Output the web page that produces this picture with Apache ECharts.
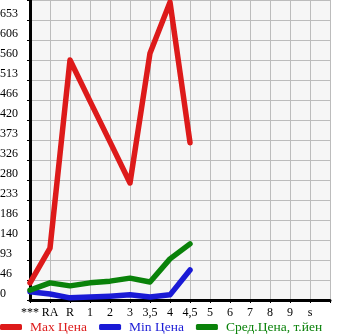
<!DOCTYPE html>
<html><head><meta charset="utf-8">
<script src="https://cdn.jsdelivr.net/npm/echarts@6/dist/echarts.min.js"></script>
<style>html,body{margin:0;padding:0;background:#fff}#c{width:345px;height:335px}</style>
</head><body><div id="c"></div>
<script>
var categories = ['***', 'RA', 'R', '1', '2', '3', '3,5', '4', '4,5', '5', '6', '7', '8', '9', 's', ''];
var maxPrice = [40, 121, 560, 464, 369, 273, 576, 695, 367, null, null, null, null, null, null, null];
var minPrice = [19, 14, 5, 7, 9, 12, 7, 12, 70, null, null, null, null, null, null, null];
var avgPrice = [23, 40, 33, 40, 44, 51, 42, 96, 131, null, null, null, null, null, null, null];
var seriesNames = ['Max Цена', 'Min Цена', 'Сред.Цена, т.йен'];
var colors = ['#dd1a1a', '#1a1ad6', '#0a820a'];
var yMax = 700, ySteps = 15;

var font = 'Liberation Serif, DejaVu Serif, serif';
var chart = echarts.init(document.getElementById('c'));
function mk(name, data, color) {
  return {
    name: name, type: 'line', data: data, showSymbol: false, symbol: 'none',
    lineStyle: { color: color, width: 5.5, cap: 'round', join: 'round' },
    itemStyle: { color: color }, animation: false
  };
}
chart.setOption({
  animation: false,
  grid: { left: 30, right: 15, top: 0, bottom: 35, show: true, backgroundColor: '#f6f6f6', borderWidth: 0, outerBoundsMode: 'none', containLabel: false },
  legend: {
    left: 0, top: 320, padding: 0, itemGap: 12, itemWidth: 22, itemHeight: 6,
    icon: 'roundRect',
    data: seriesNames.map(function (n, i) { return { name: n, textStyle: { color: colors[i] } }; }),
    textStyle: { fontFamily: font, fontSize: 13.5, padding: [0, 0, 0, 3] }
  },
  xAxis: {
    type: 'category', data: categories, boundaryGap: false,
    axisLine: { lineStyle: { color: '#000', width: 3 } },
    axisTick: { show: true, length: 3, interval: 0, lineStyle: { color: '#000' } },
    axisLabel: { interval: 0, color: '#000', fontFamily: font, fontSize: 12, margin: 7 },
    splitLine: { show: true, interval: 0, lineStyle: { color: '#bcbcbc', width: 1 } }
  },
  yAxis: {
    type: 'value', min: 0, max: yMax, interval: yMax / ySteps,
    axisLine: { show: true, lineStyle: { color: '#000', width: 3 } },
    axisTick: { show: true, length: 3, lineStyle: { color: '#000' } },
    axisLabel: {
      color: '#000', fontFamily: font, fontSize: 12, margin: 30, align: 'left', verticalAlign: 'bottom',
      formatter: function (v) { return v >= yMax - 1 ? '' : String(Math.floor(v + 1e-6)); }
    },
    splitLine: { show: true, lineStyle: { color: '#bcbcbc', width: 1 } }
  },
  series: [mk(seriesNames[0], maxPrice, colors[0]), mk(seriesNames[1], minPrice, colors[1]), mk(seriesNames[2], avgPrice, colors[2])]
});
</script></body></html>
